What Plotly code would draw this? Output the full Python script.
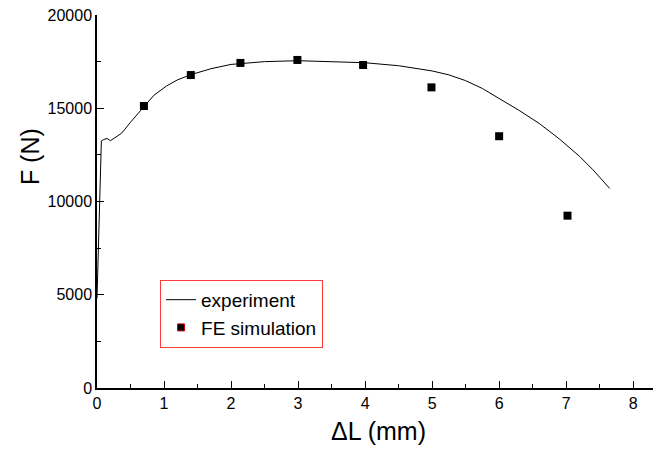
import plotly.graph_objects as go

# experiment curve (ΔL in mm, F in N)
exp_dl = [0.0, 0.03, 0.065, 0.1, 0.15, 0.2, 0.25, 0.37, 0.5, 0.7, 0.85, 1.04, 1.2, 1.4,
          1.7, 2.0, 2.5, 3.0, 3.5, 4.0, 4.5, 4.75, 5.0, 5.25, 5.5, 5.75, 6.0, 6.3, 6.6,
          6.9, 7.2, 7.4, 7.65]
exp_f = [4800, 8200, 13250, 13320, 13380, 13260, 13380, 13670, 14250, 15100, 15700,
         16200, 16520, 16800, 17120, 17350, 17500, 17550, 17500, 17440, 17280, 17160,
         17000, 16790, 16480, 16060, 15520, 14880, 14180, 13350, 12420, 11700, 10700]

# FE simulation points
fe_dl = [0.70, 1.40, 2.14, 2.99, 3.97, 4.99, 6.0, 7.02]
fe_f = [15120, 16780, 17430, 17590, 17320, 16120, 13500, 9240]

font = "Liberation Sans, Arial, sans-serif"

fig = go.Figure()
fig.add_trace(go.Scatter(x=exp_dl, y=exp_f, mode="lines", name="experiment",
                         line=dict(color="black", width=1)))
fig.add_trace(go.Scatter(x=fe_dl, y=fe_f, mode="markers", name="FE simulation",
                         showlegend=False,
                         marker=dict(symbol="square", size=8, color="black",
                                     line=dict(width=0))))
# legend entry for the FE simulation (red-edged symbol as in the original legend)
fig.add_trace(go.Scatter(x=[None], y=[None], mode="markers", name="FE simulation",
                         marker=dict(symbol="square", size=7, color="black",
                                     line=dict(width=1, color="#cc0000"))))

fig.update_layout(
    width=661, height=456,
    margin=dict(l=89, r=9, t=7, b=76, autoexpand=False),
    paper_bgcolor="white", plot_bgcolor="white",
    font=dict(family=font, color="black", size=16),
    showlegend=True,
    legend=dict(x=0.112, y=0.29, xanchor="left", yanchor="top",
                bordercolor="#ff3b3b", borderwidth=1, bgcolor="white",
                font=dict(size=19, family=font), tracegroupgap=0,
                itemwidth=30),
    xaxis=dict(range=[0, 8.4], dtick=1, tick0=0, showgrid=False, zeroline=False,
               showline=True, linecolor="black", linewidth=1.5, automargin=False,
               ticks="inside", ticklen=7, tickwidth=1, tickcolor="black",
               minor=dict(dtick=0.5, ticks="inside", ticklen=4, tickcolor="black"),
               title=dict(text="ΔL (mm)", font=dict(size=25, family=font), standoff=12),
               tickfont=dict(size=16)),
    yaxis=dict(range=[0, 20000], dtick=5000, tick0=0, showgrid=False, zeroline=False,
               showline=True, linecolor="black", linewidth=1.5, automargin=False,
               ticks="inside", ticklen=7, tickwidth=1, tickcolor="black",
               minor=dict(dtick=2500, ticks="inside", ticklen=4, tickcolor="black"),
               ticklabeloverflow="allow",
               tickfont=dict(size=16), tickformat="d"),
    annotations=[dict(text="F (N)", xref="paper", yref="paper", x=-0.119, y=0.619,
                      xanchor="center", yanchor="middle", textangle=-90,
                      showarrow=False, font=dict(size=25, family=font))],
)

fig.write_html("out.html")
